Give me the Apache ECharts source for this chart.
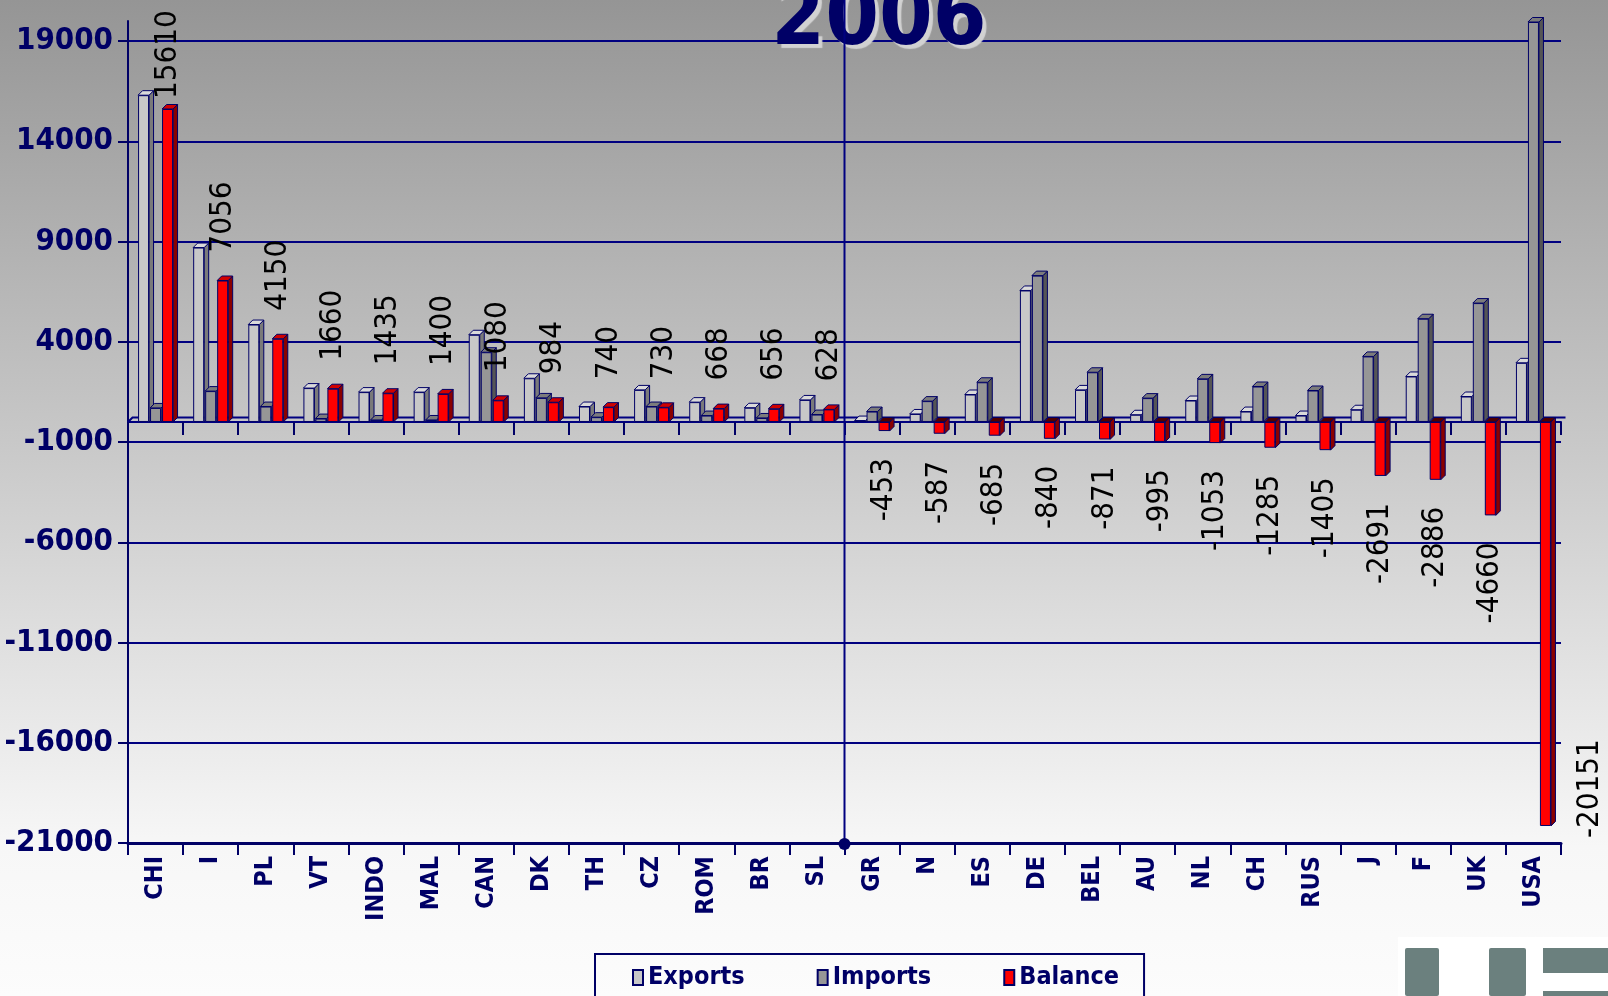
<!DOCTYPE html>
<html>
<head>
<meta charset="utf-8">
<script src="https://cdn.jsdelivr.net/npm/echarts@6/dist/echarts.min.js"></script>
<style>
html,body{margin:0;padding:0;background:#fff;}
#chart{width:1608px;height:996px;}
</style>
</head>
<body>
<div id="chart"></div>
<script>
// ---------- data ----------
const categories = ['CHI','I','PL','VT','INDO','MAL','CAN','DK','TH','CZ','ROM','BR','SL','GR','N','ES','DE','BEL','AU','NL','CH','RUS','J','F','UK','USA'];
const exportsVals = [16300, 8700, 4860, 1690, 1490, 1490, 4350, 2180, 770, 1600, 990, 710, 1100, 70, 400, 1370, 6560, 1600, 360, 1070, 520, 320, 610, 2270, 1270, 2950];
const importsVals = [700, 1540, 770, 170, 100, 100, 3480, 1200, 240, 770, 320, 200, 370, 520, 1040, 1980, 7300, 2480, 1190, 2150, 1770, 1570, 3270, 5150, 5930, 19950];
const balanceVals = [15610, 7056, 4150, 1660, 1435, 1400, 1080, 984, 740, 730, 668, 656, 628, -453, -587, -685, -840, -871, -995, -1053, -1285, -1405, -2691, -2886, -4660, -20151];
const yTicks = [-21000, -16000, -11000, -6000, -1000, 4000, 9000, 14000, 19000];
const seriesNames = ['Exports', 'Imports', 'Balance'];
const splitAfter = 'SL'; // vertical divider after this category

// ---------- style ----------
const NAVY = '#000066';
const LINE = '#000080';
const COND = "'DejaVu Sans Condensed', 'DejaVu Sans', sans-serif";
const FRONT = ['#c8c8c8', '#969696', '#ff0000'];
const TOPC = ['#dadada', '#7c7c7c', '#d00000'];
const SIDEC = ['#7a7a7a', '#555555', '#8a0000'];
const BAR_W = 11, DEPTH = 4.5;
const OFFS = [-17.5, -5.5, 6.5];

const chart = echarts.init(document.getElementById('chart'), null, {renderer: 'canvas'});

function barFaces(params, api) {
  const i = api.value(0);
  const base = api.coord([i, 0]);
  const cx = base[0], zy = base[1];
  const vals = [api.value(1), api.value(2), api.value(3)];
  const children = [];
  for (let k = 0; k < 3; k++) {
    const y = api.coord([i, vals[k]])[1];
    const top = Math.min(y, zy), bot = Math.max(y, zy);
    const x0 = cx + OFFS[k], x1 = x0 + BAR_W;
    const topColor = (k === 2 && vals[k] < 0) ? '#500000' : TOPC[k];
    children.push({
      type: 'polygon',
      shape: {points: [[x1, top], [x1 + DEPTH, top - DEPTH], [x1 + DEPTH, bot - DEPTH], [x1, bot]]},
      style: {fill: SIDEC[k], stroke: NAVY, lineWidth: 1}
    });
    children.push({
      type: 'polygon',
      shape: {points: [[x0, top], [x1, top], [x1 + DEPTH, top - DEPTH], [x0 + DEPTH, top - DEPTH]]},
      style: {fill: topColor, stroke: NAVY, lineWidth: 1}
    });
  }
  if (i === 0) {
    const cs = params.coordSys;
    children.unshift({
      type: 'polyline',
      shape: {points: [[cs.x, zy], [cs.x + DEPTH, zy - DEPTH], [cs.x + cs.width + DEPTH, zy - DEPTH]]},
      style: {stroke: LINE, lineWidth: 2, fill: null}
    });
  }
  return {type: 'group', children: children};
}

function divider(params, api) {
  const i = api.value(0);
  const p = api.coord([i, 0]);
  const half = api.size([1, 0])[0] / 2;
  const cs = params.coordSys;
  const x = p[0] + half;
  const yb = cs.y + cs.height;
  return {
    type: 'group',
    children: [
      {type: 'line', shape: {x1: x, y1: 0, x2: x, y2: yb}, style: {stroke: LINE, lineWidth: 2}},
      {type: 'circle', shape: {cx: x, cy: yb + 1, r: 6}, style: {fill: NAVY}}
    ]
  };
}

const balanceData = balanceVals.map(function (v) {
  let label;
  if (v >= 12000) {
    label = {position: 'top', distance: 10, align: 'left', verticalAlign: 'middle'};
  } else if (v >= 0) {
    label = {position: 'top', distance: 28, align: 'left', verticalAlign: 'middle'};
  } else if (v < -15000) {
    label = {position: ['459%', '103%'], align: 'left', verticalAlign: 'middle'};
  } else {
    label = {position: 'bottom', distance: 27, align: 'right', verticalAlign: 'middle'};
  }
  return {value: v, label: label};
});

const labelText = {
  show: true, rotate: 90, color: '#000000', fontFamily: COND, fontSize: 31
};

const option = {
  animation: false,
  backgroundColor: {
    type: 'linear', x: 0, y: 0, x2: 0, y2: 1,
    colorStops: [
      {offset: 0, color: '#959595'},
      {offset: 0.85, color: '#f7f7f7'},
      {offset: 1, color: '#fcfcfc'}
    ]
  },
  title: {
    text: '2006',
    left: 874, top: -26,
    textAlign: 'center',
    textStyle: {
      fontSize: 86, fontWeight: 'bold', color: NAVY, fontFamily: COND,
      textShadowColor: '#d2d2d2', textShadowOffsetX: 4, textShadowOffsetY: 4, textShadowBlur: 1
    }
  },
  legend: {
    data: seriesNames,
    left: 595, top: 954,
    padding: [11, 25, 40, 37],
    itemGap: 72,
    itemWidth: 10, itemHeight: 15,
    icon: 'rect',
    borderColor: NAVY, borderWidth: 2,
    backgroundColor: 'rgba(255,255,255,0.0)',
    textStyle: {color: NAVY, fontWeight: 'bold', fontSize: 25, fontFamily: COND}
  },
  grid: {left: 128, right: 47, top: 21, bottom: 153, containLabel: false},
  xAxis: [
    {
      type: 'category', data: categories, position: 'bottom',
      axisLine: {onZero: false, lineStyle: {color: NAVY, width: 3}},
      axisTick: {show: true, length: 12, lineStyle: {color: NAVY, width: 2}},
      axisLabel: {
        interval: 0, rotate: 90, margin: 13, color: NAVY,
        fontWeight: 'bold', fontSize: 25, fontFamily: COND
      },
      splitLine: {show: false}
    },
    {
      type: 'category', data: categories,
      axisLine: {onZero: true, lineStyle: {color: LINE, width: 2}},
      axisTick: {show: true, inside: true, length: 13, lineStyle: {color: NAVY, width: 2}},
      axisLabel: {show: false},
      splitLine: {show: false}
    }
  ],
  yAxis: {
    type: 'value', min: -21000, max: 20000,
    axisLine: {show: true, onZero: false, lineStyle: {color: NAVY, width: 2}},
    axisTick: {show: true, length: 10, customValues: yTicks, lineStyle: {color: NAVY, width: 2}},
    axisLabel: {
      customValues: yTicks, margin: 15, color: NAVY,
      fontWeight: 'bold', fontSize: 31, fontFamily: COND,
      formatter: function (v) { return String(v); }
    },
    splitLine: {show: true, lineStyle: {color: LINE, width: 2}}
  },
  series: [
    {
      name: 'Exports', type: 'bar', data: exportsVals, barWidth: BAR_W, barGap: '9%',
      itemStyle: {color: FRONT[0], borderColor: NAVY, borderWidth: 1}, z: 3
    },
    {
      name: 'Imports', type: 'bar', data: importsVals, barWidth: BAR_W, barGap: '9%',
      itemStyle: {color: FRONT[1], borderColor: NAVY, borderWidth: 1}, z: 3
    },
    {
      name: 'Balance', type: 'bar', data: balanceData, barWidth: BAR_W, barGap: '9%',
      itemStyle: {color: FRONT[2], borderColor: NAVY, borderWidth: 1}, z: 3,
      label: labelText
    },
    {
      name: 'faces', type: 'custom', z: 1, silent: true,
      renderItem: barFaces,
      encode: {x: 0, y: [1, 2, 3]},
      data: categories.map(function (c, i) { return [i, exportsVals[i], importsVals[i], balanceVals[i]]; })
    },
    {
      name: 'divider', type: 'custom', z: 10, silent: true,
      renderItem: divider,
      encode: {x: 0, y: 1},
      data: [[categories.indexOf(splitAfter), 0]]
    }
  ],
  graphic: [
    {type: 'rect', shape: {x: 1398, y: 937, width: 210, height: 59}, style: {fill: '#ffffff'}, silent: true},
    {type: 'rect', shape: {x: 1405, y: 948, width: 34, height: 48, r: 2}, style: {fill: '#6b807e'}, silent: true},
    {type: 'rect', shape: {x: 1489, y: 948, width: 37, height: 48, r: 2}, style: {fill: '#6b807e'}, silent: true},
    {type: 'rect', shape: {x: 1543, y: 948, width: 65, height: 25}, style: {fill: '#6b807e'}, silent: true},
    {type: 'rect', shape: {x: 1543, y: 991, width: 65, height: 5}, style: {fill: '#6b807e'}, silent: true}
  ]
};

chart.setOption(option);
</script>
</body>
</html>
